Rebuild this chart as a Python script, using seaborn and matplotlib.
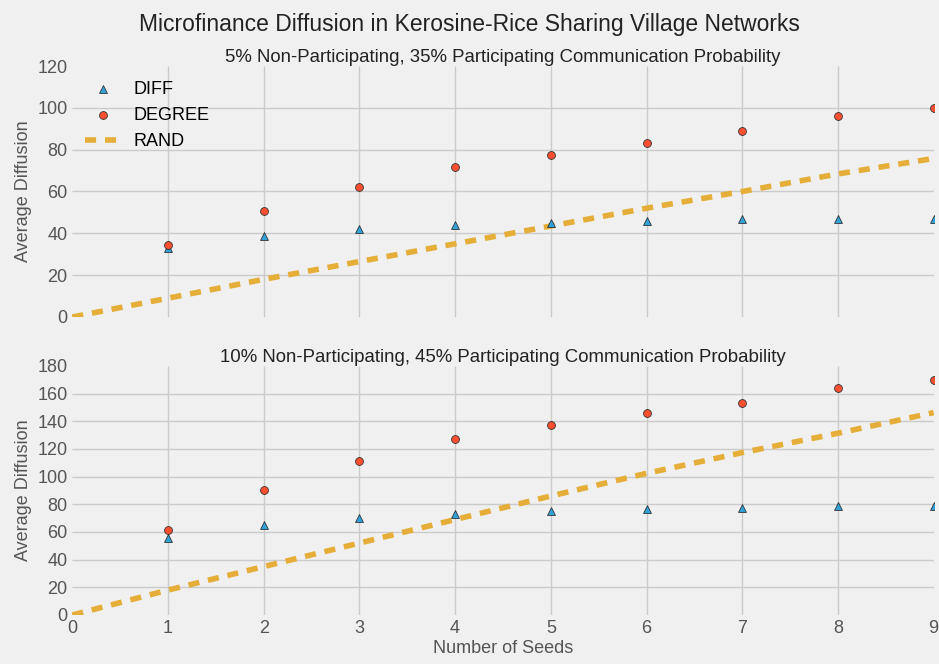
import numpy as np
import pandas as pd
import matplotlib
matplotlib.use("Agg")
import matplotlib.pyplot as plt
import seaborn as sns

plt.style.use("fivethirtyeight")
plt.rcParams["font.family"] = ["Liberation Sans", "DejaVu Sans"]

seeds = [1, 2, 3, 4, 5, 6, 7, 8, 9]
rand_seeds = [0, 1, 2, 3, 4, 5, 6, 7, 8, 9]

top_diff = [33, 38.7, 42, 44, 45, 46, 47, 47, 47]
top_degree = [34.4, 50.7, 62, 71.7, 77.4, 83.2, 89, 96, 100]
top_rand = [0, 9, 18, 26.5, 35, 43.5, 52, 60, 68.4, 75.8]

bot_diff = [56, 65, 70, 73, 75, 76.6, 77.6, 78.6, 79]
bot_degree = [61.2, 90.2, 111.6, 127, 137.5, 146, 153.3, 164, 170]
bot_rand = [0, 18, 35, 52, 69, 86, 102.4, 117.4, 131.4, 146.3]

titles = ["5% Non-Participating, 35% Participating Communication Probability",
          "10% Non-Participating, 45% Participating Communication Probability"]
ylims = [(0, 120), (0, 180)]

blue = "#30a2da"
red = "#fc4f30"
yellow = "#e5ae38"

fig = plt.figure(figsize=(9.39, 6.64), dpi=100)
fig.patch.set_facecolor("#f0f0f0")
ax1 = fig.add_axes([0.0770, 0.5226, 0.9173, 0.378])
ax2 = fig.add_axes([0.0770, 0.0738, 0.9173, 0.375])

panels = [(ax1, top_diff, top_degree, top_rand), (ax2, bot_diff, bot_degree, bot_rand)]
for i, (ax, d, g, r) in enumerate(panels):
    ax.set_facecolor("#f0f0f0")
    df_d = pd.DataFrame({"seeds": seeds, "val": d})
    df_g = pd.DataFrame({"seeds": seeds, "val": g})
    sns.scatterplot(data=df_d, x="seeds", y="val", ax=ax,
                    marker="^", color=blue, edgecolor="#333333", linewidth=0.6,
                    s=32, label="DIFF", zorder=3)
    sns.scatterplot(data=df_g, x="seeds", y="val", ax=ax,
                    marker="o", color=red, edgecolor="#333333", linewidth=0.6,
                    s=32, label="DEGREE", zorder=3)
    df_r = pd.DataFrame({"seeds": rand_seeds, "val": r})
    sns.lineplot(data=df_r, x="seeds", y="val", ax=ax, color=yellow,
                 linestyle=(0, (2, 1.6)), linewidth=4, label="RAND", zorder=2)
    for c in list(ax.collections) + list(ax.lines):
        c.set_clip_on(True)
        c.set_clip_path(ax.patch)
    ax.set_xlim(0, 9)
    ax.set_ylim(*ylims[i])
    ax.set_title(titles[i], fontsize=13.4, color="#222222", pad=3)
    ax.set_ylabel("Average Diffusion", fontsize=13, color="#555555")
    ax.tick_params(labelsize=13, colors="#555555")
    ax.grid(True, color="#cbcbcb", linewidth=1)
    for s in ax.spines.values():
        s.set_visible(False)
    ax.set_xticks(range(0, 10))
    if i == 0:
        ax.set_xticklabels([])
        ax.set_xlabel("")
        ax.set_yticks(range(0, 121, 20))
        ax.legend(loc="upper left", frameon=False, fontsize=13,
                  bbox_to_anchor=(-0.004, 1.005), handlelength=2.0,
                  handletextpad=0.7, labelspacing=0.5)
    else:
        ax.set_yticks(range(0, 181, 20))
        ax.set_xlabel("Number of Seeds", fontsize=13, color="#555555", labelpad=2)
        leg = ax.get_legend()
        if leg:
            leg.remove()
    # hide gridlines sitting on the axes edges
    xg = ax.get_xgridlines()
    xg[0].set_visible(False)
    xg[-1].set_visible(False)
    yg = ax.get_ygridlines()
    yg[0].set_visible(False)
    yg[-1].set_visible(False)

fig.suptitle("Microfinance Diffusion in Kerosine-Rice Sharing Village Networks",
             fontsize=16.5, color="#222222", y=0.981)

fig.savefig("out.png", dpi=100, facecolor=fig.get_facecolor())
